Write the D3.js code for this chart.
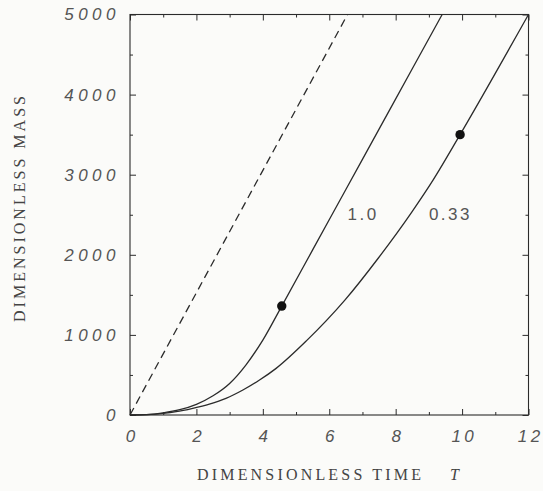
<!DOCTYPE html>
<meta charset="utf-8">
<script src="https://d3js.org/d3.v7.min.js"></script>
<style>
    body { margin: 0; background: #fbfbf9; }
</style>
<body>
<div id="my_dataviz"></div>
</body>
<script>
    // values
    var timeTicks = [0, 2, 4, 6, 8, 10, 12];
    var timeMinor = [1, 3, 5, 7, 9, 11];
    var massTicks = [0, 1000, 2000, 3000, 4000, 5000];
    var massMinor = [500, 1500, 2500, 3500, 4500];

    // curve labelled 1.0
    var time10 = [0, 0.5, 1, 1.5, 2, 2.5, 3, 3.5, 4, 4.57, 5.5, 6.5, 7.5, 8.5, 9.4];
    var mass10 = [0, 5, 27, 66, 133, 240, 394, 630, 935, 1360, 2061, 2815, 3569, 4323, 5000];

    // curve labelled 0.33
    var time033 = [0, 0.5, 1, 1.39, 1.89, 2.39, 2.89, 3.4, 3.9, 4.4, 5.31, 6.47, 7.48, 8.48, 9.13, 9.94, 12];
    var mass033 = [0, 5, 20, 41, 84, 137, 208, 312, 436, 582, 925, 1434, 1960, 2530, 2935, 3500, 5000];

    // dashed straight line
    var timeDash = [0, 6.55];
    var massDash = [0, 5000];

    // filled markers
    var dotTime = [4.57, 9.94];
    var dotMass = [1360, 3500];

    // in-plot curve labels
    var labelText = ["1.0", "0.33"];
    var labelTime = [6.55, 9.0];
    var labelMass = [2430, 2430];

    var W = 543, H = 491;
    var plotLeft = 130, plotRight = 528.5, plotTop = 14.5, plotBottom = 415;
    var ink = "#2b2b2b", grey = "#555";

    var svg = d3.select("#my_dataviz")
        .append("svg")
        .attr("width", W)
        .attr("height", H);

    svg.append("rect")
        .attr("width", W)
        .attr("height", H)
        .attr("fill", "#fbfbf9");

    var x = d3.scaleLinear().domain([0, 12]).range([plotLeft, plotRight]);
    var y = d3.scaleLinear().domain([0, 5000]).range([plotBottom, plotTop]);

    function zip(ts, ms) {
        return ts.map(function (t, i) { return [t, ms[i]]; });
    }

    // axes: major + minor ticks pointing inward on all four sides
    function styleAxis(g) {
        g.select(".domain").remove();
        g.selectAll(".tick line").attr("stroke", ink).attr("stroke-width", 1);
    }

    var tickFont = "'Liberation Sans', Arial, sans-serif";

    svg.append("g")
        .attr("transform", "translate(0," + plotBottom + ")")
        .call(d3.axisBottom(x).tickValues(timeTicks).tickSize(-6).tickPadding(15).tickFormat(d3.format("d")))
        .call(styleAxis)
        .selectAll("text")
        .attr("font-family", tickFont)
        .attr("font-style", "italic")
        .attr("font-size", 17)
        .attr("letter-spacing", "3.5px")
        .attr("dx", "1.75px")
        .attr("fill", grey);
    svg.append("g")
        .attr("transform", "translate(0," + plotBottom + ")")
        .call(d3.axisBottom(x).tickValues(timeMinor).tickSize(-3).tickFormat(""))
        .call(styleAxis);
    svg.append("g")
        .attr("transform", "translate(0," + plotTop + ")")
        .call(d3.axisTop(x).tickValues(timeTicks).tickSize(-6).tickFormat(""))
        .call(styleAxis);
    svg.append("g")
        .attr("transform", "translate(0," + plotTop + ")")
        .call(d3.axisTop(x).tickValues(timeMinor).tickSize(-3).tickFormat(""))
        .call(styleAxis);

    svg.append("g")
        .attr("transform", "translate(" + plotLeft + ",0)")
        .call(d3.axisLeft(y).tickValues(massTicks).tickSize(-6).tickPadding(10).tickFormat(d3.format("d")))
        .call(styleAxis)
        .selectAll("text")
        .attr("font-family", tickFont)
        .attr("font-style", "italic")
        .attr("font-size", 17)
        .attr("letter-spacing", "4.5px")
        .attr("fill", grey);
    svg.append("g")
        .attr("transform", "translate(" + plotLeft + ",0)")
        .call(d3.axisLeft(y).tickValues(massMinor).tickSize(-3).tickFormat(""))
        .call(styleAxis);
    svg.append("g")
        .attr("transform", "translate(" + plotRight + ",0)")
        .call(d3.axisRight(y).tickValues(massTicks).tickSize(-6).tickFormat(""))
        .call(styleAxis);
    svg.append("g")
        .attr("transform", "translate(" + plotRight + ",0)")
        .call(d3.axisRight(y).tickValues(massMinor).tickSize(-3).tickFormat(""))
        .call(styleAxis);

    // frame
    svg.append("rect")
        .attr("x", plotLeft)
        .attr("y", plotTop)
        .attr("width", plotRight - plotLeft)
        .attr("height", plotBottom - plotTop)
        .attr("fill", "none")
        .attr("stroke", ink)
        .attr("stroke-width", 1.1);

    var line = d3.line()
        .x(function (d) { return x(d[0]); })
        .y(function (d) { return y(d[1]); })
        .curve(d3.curveMonotoneX);

    svg.append("path")
        .datum(zip(timeDash, massDash))
        .attr("d", line)
        .attr("fill", "none")
        .attr("stroke", ink)
        .attr("stroke-width", 1.3)
        .attr("stroke-dasharray", "8,5");

    [zip(time10, mass10), zip(time033, mass033)].forEach(function (pts) {
        svg.append("path")
            .datum(pts)
            .attr("d", line)
            .attr("fill", "none")
            .attr("stroke", ink)
            .attr("stroke-width", 1.3);
    });

    svg.selectAll(".dot")
        .data(zip(dotTime, dotMass))
        .enter()
        .append("circle")
        .attr("cx", function (d) { return x(d[0]); })
        .attr("cy", function (d) { return y(d[1]); })
        .attr("r", 4.7)
        .attr("fill", "#111");

    svg.selectAll(".clabel")
        .data(labelText)
        .enter()
        .append("text")
        .attr("x", function (d, i) { return x(labelTime[i]); })
        .attr("y", function (d, i) { return y(labelMass[i]); })
        .attr("font-family", tickFont)
        .attr("font-size", 17)
        .attr("letter-spacing", "2.5px")
        .attr("fill", grey)
        .text(function (d) { return d; });

    // axis titles
    var serif = "'Liberation Serif', 'Times New Roman', serif";

    svg.append("text")
        .attr("x", 197)
        .attr("y", 480)
        .attr("font-family", serif)
        .attr("font-size", 16)
        .attr("textLength", 224)
        .attr("lengthAdjust", "spacing")
        .attr("fill", "#444")
        .text("DIMENSIONLESS TIME");
    svg.append("text")
        .attr("x", 450)
        .attr("y", 480)
        .attr("font-family", serif)
        .attr("font-style", "italic")
        .attr("font-size", 16)
        .attr("fill", "#444")
        .text("T");

    svg.append("text")
        .attr("transform", "translate(25,209) rotate(-90)")
        .attr("x", -113)
        .attr("font-family", serif)
        .attr("font-size", 16)
        .attr("textLength", 226)
        .attr("lengthAdjust", "spacing")
        .attr("fill", "#444")
        .text("DIMENSIONLESS MASS");
</script>
